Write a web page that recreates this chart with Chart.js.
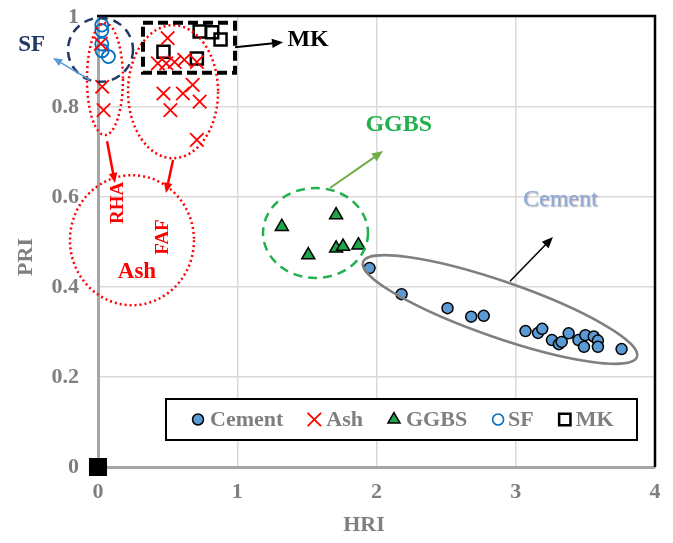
<!DOCTYPE html>
<html>
<head>
<meta charset="utf-8">
<script src="https://cdn.jsdelivr.net/npm/chart.js@4.4.1/dist/chart.umd.min.js"></script>
<style>
  html, body { margin: 0; padding: 0; background: #ffffff; }
  canvas { display: block; }
</style>
</head>
<body>
<canvas id="chart" width="673" height="543"></canvas>
<script>
// ---- series values (HRI on x, PRI on y) ----
const cementHRI = [1.95, 2.18, 2.51, 2.68, 2.77, 3.07, 3.16, 3.19, 3.26, 3.31, 3.33, 3.38, 3.45, 3.49, 3.50, 3.56, 3.59, 3.59, 3.76];
const cementPRI = [0.442, 0.384, 0.353, 0.334, 0.336, 0.302, 0.298, 0.307, 0.282, 0.273, 0.278, 0.297, 0.282, 0.267, 0.293, 0.290, 0.281, 0.267, 0.262];

const ashHRI = [0.02, 0.03, 0.04, 0.50, 0.43, 0.49, 0.55, 0.62, 0.71, 0.47, 0.61, 0.68, 0.73, 0.52, 0.71];
const ashPRI = [0.941, 0.845, 0.793, 0.953, 0.897, 0.897, 0.900, 0.905, 0.900, 0.830, 0.830, 0.849, 0.812, 0.793, 0.727];

const ggbsHRI = [1.32, 1.71, 1.51, 1.71, 1.76, 1.87];
const ggbsPRI = [0.534, 0.560, 0.471, 0.486, 0.490, 0.493];

const sfHRI = [0.027, 0.027, 0.027, 0.03, 0.075];
const sfPRI = [0.982, 0.970, 0.940, 0.925, 0.912];

const mkHRI = [0.47, 0.71, 0.73, 0.82, 0.88, 0];
const mkPRI = [0.923, 0.908, 0.968, 0.966, 0.950, 0];

const seriesNames = ['Cement', 'Ash', 'GGBS', 'SF', 'MK'];

// ---- tick labels ----
const xTickLabels = ['0', '1', '2', '3', '4'];
const yTickLabels = ['0', '0.2', '0.4', '0.6', '0.8', '1'];

const toPoints = (xs, ys) => xs.map((x, i) => ({ x: x, y: ys[i] }));

const SERIF = '"Liberation Serif", "Times New Roman", serif';
const GREY_TEXT = '#7f7f7f';

// group outlines, arrows and labels, positioned in HRI/PRI units
const groupOutlines = [
  { cx: 0.018, cy: 0.927, rx: 32.5, ry: 32, rot: 0, color: '#1f3864', width: 2.5, dash: [9, 6] },           // SF
  { cx: 0.05, cy: 0.862, rx: 18, ry: 56, rot: 0, color: '#ff0000', width: 2.5, dash: [2, 3] },              // RHA group
  { cx: 0.539, cy: 0.834, rx: 45, ry: 66.5, rot: 0, color: '#ff0000', width: 2.5, dash: [2, 3] },           // FAF group
  { cx: 0.244, cy: 0.504, rx: 62, ry: 65, rot: 0, color: '#ff0000', width: 2.5, dash: [2, 3] },             // Ash
  { cx: 1.562, cy: 0.52, rx: 52.5, ry: 45, rot: 0, color: '#22b14c', width: 2.5, dash: [9, 6] },            // GGBS
  { cx: 2.887, cy: 0.35, rx: 145, ry: 28, rot: 19.1, color: '#808080', width: 2.5, dash: [] }               // Cement
];

const groupArrows = [
  { x1: -0.057, y1: 0.86, x2: -0.323, y2: 0.909, color: '#5b9bd5', width: 1.5, head: 10 },
  { x1: 0.065, y1: 0.724, x2: 0.122, y2: 0.631, color: '#ff0000', width: 2.5, head: 11 },
  { x1: 0.539, y1: 0.682, x2: 0.488, y2: 0.609, color: '#ff0000', width: 2.5, head: 11 },
  { x1: 0.984, y1: 0.933, x2: 1.329, y2: 0.944, color: '#000000', width: 2, head: 12 },
  { x1: 1.666, y1: 0.62, x2: 2.047, y2: 0.702, color: '#70ad47', width: 2, head: 12 },
  { x1: 2.959, y1: 0.413, x2: 3.267, y2: 0.511, color: '#000000', width: 1.5, head: 12 }
];

const groupLabels = [
  { text: 'SF', x: -0.476, y: 0.938, size: 23, weight: 'bold', color: '#1f3864', rot: 0, align: 'center' },
  { text: 'RHA', x: 0.144, y: 0.587, size: 19, weight: 'bold', color: '#ff0000', rot: -90, align: 'center' },
  { text: 'FAF', x: 0.467, y: 0.511, size: 19, weight: 'bold', color: '#ff0000', rot: -90, align: 'center' },
  { text: 'Ash', x: 0.28, y: 0.433, size: 23, weight: 'bold', color: '#ff0000', rot: 0, align: 'center' },
  { text: 'MK', x: 1.36, y: 0.949, size: 24, weight: 'bold', color: '#000000', rot: 0, align: 'left' },
  { text: 'GGBS', x: 2.16, y: 0.76, size: 24, weight: 'bold', color: '#22b14c', rot: 0, align: 'center' },
  { text: 'Cement', x: 3.32, y: 0.593, size: 24, weight: 'normal', color: '#8eaadb', rot: 0, align: 'center', shadow: true }
];

// MK rectangle outline (HRI/PRI corners)
const mkBox = { x1: 0.323, y1: 0.987, x2: 0.984, y2: 0.876 };

function drawArrow(ctx, x1, y1, x2, y2, color, width, head) {
  const a = Math.atan2(y2 - y1, x2 - x1);
  ctx.save();
  ctx.strokeStyle = color;
  ctx.fillStyle = color;
  ctx.lineWidth = width;
  ctx.setLineDash([]);
  ctx.beginPath();
  ctx.moveTo(x1, y1);
  ctx.lineTo(x2 - Math.cos(a) * head * 0.8, y2 - Math.sin(a) * head * 0.8);
  ctx.stroke();
  ctx.beginPath();
  ctx.moveTo(x2, y2);
  ctx.lineTo(x2 - head * Math.cos(a - 0.4), y2 - head * Math.sin(a - 0.4));
  ctx.lineTo(x2 - head * Math.cos(a + 0.4), y2 - head * Math.sin(a + 0.4));
  ctx.closePath();
  ctx.fill();
  ctx.restore();
}

const annotationPlugin = {
  id: 'groupAnnotations',
  afterDatasetsDraw(chart) {
    const ctx = chart.ctx;
    const sx = chart.scales.x, sy = chart.scales.y;
    const X = v => sx.getPixelForValue(v);
    const Y = v => sy.getPixelForValue(v);
    const area = chart.chartArea;

    // black frame on top and right
    ctx.save();
    ctx.strokeStyle = '#000000';
    ctx.lineWidth = 2.5;
    ctx.beginPath();
    ctx.moveTo(area.left - 1, area.top - 1);
    ctx.lineTo(area.right, area.top - 1);
    ctx.lineTo(area.right, area.bottom);
    ctx.stroke();
    ctx.restore();

    // ellipses
    groupOutlines.forEach(e => {
      ctx.save();
      ctx.strokeStyle = e.color;
      ctx.lineWidth = e.width;
      ctx.setLineDash(e.dash);
      ctx.beginPath();
      ctx.ellipse(X(e.cx), Y(e.cy), e.rx, e.ry, e.rot * Math.PI / 180, 0, Math.PI * 2);
      ctx.stroke();
      ctx.restore();
    });

    // MK dashed box
    ctx.save();
    ctx.strokeStyle = '#000000';
    ctx.lineWidth = 4;
    ctx.setLineDash([10, 5]);
    ctx.strokeRect(X(mkBox.x1), Y(mkBox.y1), X(mkBox.x2) - X(mkBox.x1), Y(mkBox.y2) - Y(mkBox.y1));
    ctx.restore();

    // arrows
    groupArrows.forEach(a => drawArrow(ctx, X(a.x1), Y(a.y1), X(a.x2), Y(a.y2), a.color, a.width, a.head));

    // labels
    groupLabels.forEach(l => {
      ctx.save();
      ctx.translate(X(l.x), Y(l.y));
      ctx.rotate(l.rot * Math.PI / 180);
      ctx.font = l.weight + ' ' + l.size + 'px ' + SERIF;
      ctx.fillStyle = l.color;
      ctx.textAlign = l.align;
      ctx.textBaseline = 'middle';
      if (l.shadow) {
        ctx.shadowColor = 'rgba(60,60,60,0.45)';
        ctx.shadowOffsetX = 1;
        ctx.shadowOffsetY = 1;
        ctx.shadowBlur = 1.5;
      }
      ctx.fillText(l.text, 0, 0);
      ctx.restore();
    });

    // axis titles
    ctx.save();
    ctx.font = 'bold 22px ' + SERIF;
    ctx.fillStyle = GREY_TEXT;
    ctx.textAlign = 'center';
    ctx.textBaseline = 'middle';
    ctx.fillText('HRI', 364, 525);
    ctx.translate(26, 257);
    ctx.rotate(-Math.PI / 2);
    ctx.fillText('PRI', 0, 0);
    ctx.restore();

    // legend box
    const bx = 166, by = 399, bw = 471, bh = 41;
    ctx.save();
    ctx.fillStyle = '#ffffff';
    ctx.fillRect(bx, by, bw, bh);
    ctx.strokeStyle = '#000000';
    ctx.lineWidth = 2;
    ctx.strokeRect(bx, by, bw, bh);
    ctx.font = 'bold 22px ' + SERIF;
    ctx.textBaseline = 'middle';
    ctx.textAlign = 'left';
    let mx = 198;
    const my = by + bh / 2;
    chart.data.datasets.forEach((ds, i) => {
      ctx.save();
      ctx.fillStyle = ds.legendFill;
      ctx.strokeStyle = ds.borderColor;
      ctx.lineWidth = ds.legendBorder;
      Chart.helpers.drawPoint(ctx, { pointStyle: ds.pointStyle, radius: ds.legendRadius, borderWidth: ds.legendBorder, rotation: 0 }, mx, my);
      ctx.restore();
      ctx.fillStyle = GREY_TEXT;
      const tx = mx + ds.legendGap;
      ctx.fillText(ds.label, tx, my + 1);
      mx = tx + ctx.measureText(ds.label).width + 31;
    });
    ctx.restore();
  }
};

const mkFill = mkHRI.map((x, i) => (x === 0 && mkPRI[i] === 0) ? '#000000' : 'rgba(0,0,0,0)');
const mkRadius = mkHRI.map((x, i) => (x === 0 && mkPRI[i] === 0) ? 11 : 8.5);

new Chart(document.getElementById('chart'), {
  type: 'scatter',
  data: {
    datasets: [
      {
        label: seriesNames[0], data: toPoints(cementHRI, cementPRI),
        pointStyle: 'circle', pointRadius: 5.5, borderWidth: 1.5,
        backgroundColor: '#5b9bd5', borderColor: '#000000',
        legendFill: '#5b9bd5', legendRadius: 5.5, legendBorder: 1.5, legendGap: 12, clip: false
      },
      {
        label: seriesNames[1], data: toPoints(ashHRI, ashPRI),
        pointStyle: 'crossRot', pointRadius: 9.5, borderWidth: 1.8,
        backgroundColor: '#ff0000', borderColor: '#ff0000',
        legendFill: '#ff0000', legendRadius: 9.5, legendBorder: 1.8, legendGap: 12, clip: false
      },
      {
        label: seriesNames[2], data: toPoints(ggbsHRI, ggbsPRI),
        pointStyle: 'triangle', pointRadius: 7.5, borderWidth: 1.5,
        backgroundColor: '#1fa64a', borderColor: '#000000',
        legendFill: '#1fa64a', legendRadius: 7, legendBorder: 1.5, legendGap: 12, clip: false
      },
      {
        label: seriesNames[3], data: toPoints(sfHRI, sfPRI),
        pointStyle: 'circle', pointRadius: 6.5, borderWidth: 1.8,
        backgroundColor: 'rgba(0,0,0,0)', borderColor: '#0070c0',
        legendFill: 'rgba(0,0,0,0)', legendRadius: 5.5, legendBorder: 1.6, legendGap: 10, clip: false
      },
      {
        label: seriesNames[4], data: toPoints(mkHRI, mkPRI),
        pointStyle: 'rect', pointRadius: mkRadius, borderWidth: 2.5,
        backgroundColor: mkFill, borderColor: '#000000',
        legendFill: 'rgba(0,0,0,0)', legendRadius: 8, legendBorder: 2.5, legendGap: 11, clip: false
      }
    ]
  },
  options: {
    responsive: false,
    animation: false,
    layout: { padding: { top: 17, right: 18, left: 0, bottom: 0 } },
    plugins: { legend: { display: false }, tooltip: { enabled: false } },
    scales: {
      x: {
        type: 'linear', min: 0, max: 4,
        afterFit: s => { s.height = 76; s.paddingLeft = 0; s.paddingRight = 0; },
        ticks: {
          stepSize: 1, padding: 12, color: GREY_TEXT,
          font: { family: SERIF, size: 22, weight: 'bold' },
          callback: v => xTickLabels[Math.round(v)]
        },
        grid: {
          drawTicks: false,
          color: c => (c.tick && (c.tick.value === 0 || c.tick.value === 4)) ? 'rgba(0,0,0,0)' : '#d9d9d9',
          lineWidth: 1.5
        },
        border: { color: '#a6a6a6', width: 3 }
      },
      y: {
        type: 'linear', min: 0, max: 1,
        afterFit: s => { s.width = 98; s.paddingTop = 0; s.paddingBottom = 0; },
        ticks: {
          stepSize: 0.2, padding: 19, color: GREY_TEXT,
          font: { family: SERIF, size: 22, weight: 'bold' },
          callback: v => yTickLabels[Math.round(v * 5)]
        },
        grid: {
          drawTicks: false,
          color: c => (c.tick && (c.tick.value === 0 || c.tick.value === 1)) ? 'rgba(0,0,0,0)' : '#d9d9d9',
          lineWidth: 1.5
        },
        border: { color: '#a6a6a6', width: 3 }
      }
    }
  },
  plugins: [annotationPlugin]
});
</script>
</body>
</html>
